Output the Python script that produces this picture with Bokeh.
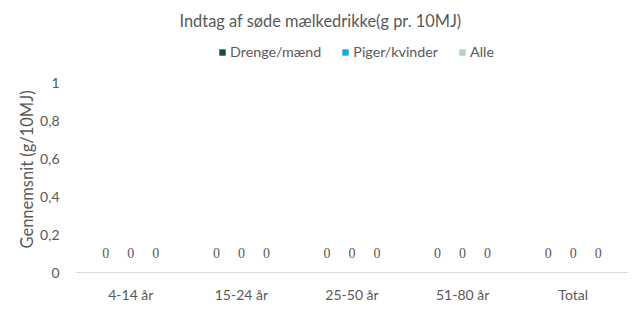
from bokeh.plotting import figure
from bokeh.layouts import column
from bokeh.models import (ColumnDataSource, FactorRange, Range1d, LabelSet, Legend,
                          LegendItem, Label, FixedTicker)
from bokeh.transform import dodge
from bokeh.embed import file_html
from bokeh.resources import INLINE

title_text = "Indtag af søde mælkedrikke(g pr. 10MJ)"
y_title = "Gennemsnit (g/10MJ)"
categories = ["4-14 år", "15-24 år", "25-50 år", "51-80 år", "Total"]
series_names = ["Drenge/mænd", "Piger/kvinder", "Alle"]
drenge = [0, 0, 0, 0, 0]
piger = [0, 0, 0, 0, 0]
alle = [0, 0, 0, 0, 0]
y_ticks = [0, 0.2, 0.4, 0.6, 0.8, 1]
y_tick_labels = ["0", "0,2", "0,4", "0,6", "0,8", "1"]

colors = ["#164a4a", "#00b0f0", "#b4d0c0"]
FONT = "Lato"
TXT = "#595959"

src = ColumnDataSource(dict(
    cat=categories,
    drenge=drenge, piger=piger, alle=alle,
    drenge_l=[str(v) for v in drenge],
    piger_l=[str(v) for v in piger],
    alle_l=[str(v) for v in alle],
))
fields = ["drenge", "piger", "alle"]

# ---- header figure: title + legend (643 x 66); frame spans page x 75..628
head = figure(width=643, height=66, x_range=Range1d(75, 628), y_range=Range1d(0, 66),
              output_backend="svg", toolbar_location=None,
              min_border_left=75, min_border_right=15, min_border_top=0, min_border_bottom=0,
              background_fill_color="white", border_fill_color="white", outline_line_color=None)
head.axis.visible = False
head.grid.visible = False
head.add_layout(Label(x=320, y=46, text=title_text, text_align="center", text_baseline="middle",
                      text_font=FONT, text_font_size="16.4px", text_color=TXT))
# legend proxies: zero-height bars (values are all 0), they fall outside the header's range
leg_r = [head.vbar(x=f, top=f, width=0.1, source=src, fill_color=c, line_color=None)
         for f, c in zip(fields, colors)]
legend = Legend(items=[LegendItem(label=n, renderers=[r]) for n, r in zip(series_names, leg_r)],
                orientation="horizontal", location=(143, 6),
                label_text_font=FONT, label_text_font_size="14.3px", label_text_color=TXT,
                glyph_width=8, glyph_height=8, spacing=20, label_standoff=4,
                border_line_color=None, background_fill_alpha=0, padding=0, margin=0)
head.add_layout(legend)

# ---- main figure: frame left 75, right 628, top 66 (page), bottom 272 (page); value 1 at y=82
p = figure(width=643, height=244, x_range=FactorRange(*categories, range_padding=0),
           y_range=Range1d(0, 1 + 16 / 190), output_backend="svg", toolbar_location=None,
           min_border_left=75, min_border_right=15, min_border_bottom=38, min_border_top=0,
           background_fill_color="white", border_fill_color="white", outline_line_color=None)

offsets = [-0.226, 0.0, 0.226]
for off, f, c in zip(offsets, fields, colors):
    p.vbar(x=dodge("cat", off, range=p.x_range), top=f, width=0.2, source=src,
           fill_color=c, line_color=None)
    p.add_layout(LabelSet(x=dodge("cat", off, range=p.x_range), y=f, text=f + "_l", source=src,
                          y_offset=15, text_align="center", text_baseline="bottom",
                          text_font=FONT, text_font_size="14px", text_color=TXT))

p.xgrid.grid_line_color = None
p.ygrid.grid_line_color = None

p.yaxis.ticker = FixedTicker(ticks=y_ticks)
p.yaxis.major_label_overrides = {t: l for t, l in zip(y_ticks, y_tick_labels)}
p.yaxis.axis_line_color = None
p.yaxis.major_tick_line_color = None
p.yaxis.minor_tick_line_color = None
p.yaxis.major_label_text_font = FONT
p.yaxis.major_label_text_font_size = "14px"
p.yaxis.major_label_text_color = TXT
p.yaxis.major_label_standoff = 10
p.yaxis.axis_label = y_title
p.yaxis.axis_label_text_font = FONT
p.yaxis.axis_label_text_font_size = "16.5px"
p.yaxis.axis_label_text_font_style = "normal"
p.yaxis.axis_label_text_color = TXT
p.yaxis.axis_label_standoff = 0

p.xaxis.axis_line_color = "#d9d9d9"
p.xaxis.major_tick_line_color = None
p.xaxis.minor_tick_line_color = None
p.xaxis.major_label_text_font = FONT
p.xaxis.major_label_text_font_size = "14px"
p.xaxis.major_label_text_color = TXT
p.xaxis.major_label_standoff = 7

layout = column(head, p, spacing=0)
open("out.html", "w").write(file_html(layout, INLINE))
